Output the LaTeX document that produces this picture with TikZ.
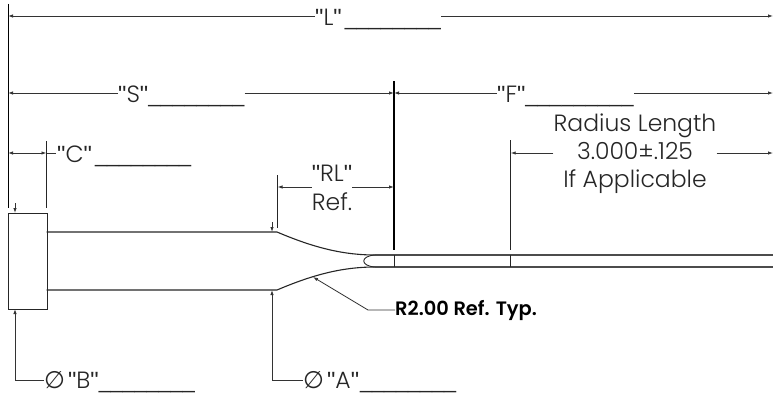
\documentclass[tikz,border=0pt]{standalone}
\usepackage{fontspec}
\setmainfont[BoldFont={Poppins SemiBold}]{Poppins Light}
\newfontfamily\symf{DejaVu Sans}
\newfontfamily\linef{Liberation Sans}
\usetikzlibrary{arrows.meta}
\newcommand{\blank}{{\linef\fontsize{21.6}{26}\selectfont\_\_\_\_\_\_\_\_}}
\newcommand{\blankF}{{\linef\fontsize{21.6}{26}\selectfont\_\_\_\_\_\_\_\_\_}}
\newcommand{\qm}{{\linef"}}
\tikzset{
 dimtxt/.style={inner sep=0pt,font=\fontsize{23.5}{28.3}\selectfont,text=black!85},
 dimline/.style={draw=black!80,line width=.8pt},
 tip/.style={-{Latex[length=5pt,width=3.4pt]}},
 tipb/.style={{Latex[length=5pt,width=3.4pt]}-{Latex[length=5pt,width=3.4pt]}},
 ext/.style={draw=black!85,line width=.8pt},
 part/.style={draw=black!85,line width=1.1pt},
 heavy/.style={draw=black,line width=1.4pt},
}
\begin{document}
\begin{tikzpicture}[x=1pt,y=-1pt]
\useasboundingbox (0,0) rectangle (773,396);
% coordinates
\coordinate (dL) at (8,16); \coordinate (eL) at (773,16);
\coordinate (dS) at (8,93); \coordinate (mS) at (394,93); \coordinate (eF) at (773,93);
\coordinate (dC) at (8,153); \coordinate (mC) at (46.5,153); \coordinate (xC) at (56,153);
\coordinate (rlA) at (277.5,187); \coordinate (rlB) at (394,187);
\coordinate (rA) at (510.7,153); \coordinate (rB) at (773,153);
% block and shaft
\node[part,fill=white,minimum width=38.5pt,minimum height=96pt,inner sep=0pt,anchor=north west] (block) at (8,213) {};
\coordinate (u0) at (46.5,232); \coordinate (u1) at (277,232); \coordinate (u2) at (375,255); \coordinate (u3) at (773,255);
\coordinate (l0) at (46.5,290); \coordinate (l1) at (277,290); \coordinate (l2) at (375,267); \coordinate (l3) at (773,267);
\draw[part] (u0) -- (u1) .. controls (310,246) and (340,255) .. (u2);
\draw[part] (l0) -- (l1) .. controls (310,276) and (340,267) .. (l2);
\draw[part,draw=black!70,line width=1.3pt] (u2) -- (u3);
\draw[part,draw=black!70,line width=1.3pt] (l2) -- (l3);
\draw[part,line width=.9pt] (u2) .. controls (360,256) and (360,266) .. (l2);
% extension lines
\draw[draw=black,line width=1pt] (8,4) -- (8,208);
\draw[heavy] (394,81) -- (394,250);
\draw[ext] (394,255) -- (394,267);
\draw[ext] (46.5,141) -- (46.5,208);
\draw[ext] (277.5,175) -- (277.5,228);
\draw[ext] (510.7,140) -- (510.7,250);
\draw[ext] (510.7,255) -- (510.7,267);
% L
\node[dimtxt,anchor=base west] (tL) at (315,25.5) {\qm L\qm\kern3pt\blank};
\draw[dimline,tip] (tL.west |- dL) -- (dL);
\draw[dimline,tip] (tL.east |- eL) -- (eL);
% S
\node[dimtxt,anchor=base west] (tS) at (118,102) {\qm S\qm\blank};
\draw[dimline,tip] (tS.west |- dS) -- (dS);
\draw[dimline,tip] (tS.east |- mS) -- (mS);
% F
\node[dimtxt,anchor=base west] (tF) at (497,102) {\qm F\qm\blankF};
\draw[dimline,tip] (tF.west |- mS) -- (mS);
\draw[dimline,tip] (tF.east |- eF) -- (eF);
% C
\node[dimtxt,anchor=base west] (tC) at (57,162) {\qm C\qm\kern3pt\blank};
\draw[dimline,tipb] (dC) -- (mC);
\draw[dimline] (mC) -- (xC);
% RL
\node[dimtxt,align=center] (tRL) at (332,188) {\qm RL\qm\\Ref.};
\draw[dimline,tip] (tRL.west |- rlA) -- (rlA);
\draw[dimline,tip] (tRL.east |- rlB) -- (rlB);
% radius length
\node[dimtxt,align=center] (tR) at (635,153.5) {Radius Length\\3.000±.125\\If Applicable};
\draw[dimline,tip] (tR.west |- rA) -- (rA);
\draw[dimline,tip] (tR.east |- rB) -- (rB);
% small arrows
\coordinate (a1) at (15,203); \coordinate (a2) at (15,213);
\draw[dimline,tip] (a1) -- (a2);
\coordinate (a3) at (272,222); \coordinate (a4) at (272,232);
\draw[dimline,tip] (a3) -- (a4);
% B
\node[dimtxt,anchor=base west] (tB) at (44,388) {{\symf\fontsize{24}{28}\selectfont ∅}\kern3pt\qm B\qm\blank};
\coordinate (kB) at (15,380); \coordinate (tipB) at (15,309);
\draw[dimline,tip] (tB.west |- kB) -- (kB) -- (tipB);
% A
\node[dimtxt,anchor=base west] (tA) at (303,388) {{\symf\fontsize{24}{28}\selectfont ∅}\kern3pt\qm A\qm\kern1pt\blank};
\coordinate (kA) at (272,380); \coordinate (tipA) at (272,290);
\draw[dimline,tip] (tA.west |- kA) -- (kA) -- (tipA);
% R2.00
\node[inner sep=0pt,anchor=west,font=\fontsize{19.4}{23}\selectfont\bfseries] (tQ) at (395,310) {R2.00 Ref. Typ.};
\coordinate (kQ) at (368,310); \coordinate (tipQ) at (313,277);
\draw[dimline,tip] (tQ.west) -- (kQ) -- (tipQ);
\end{tikzpicture}
\end{document}
